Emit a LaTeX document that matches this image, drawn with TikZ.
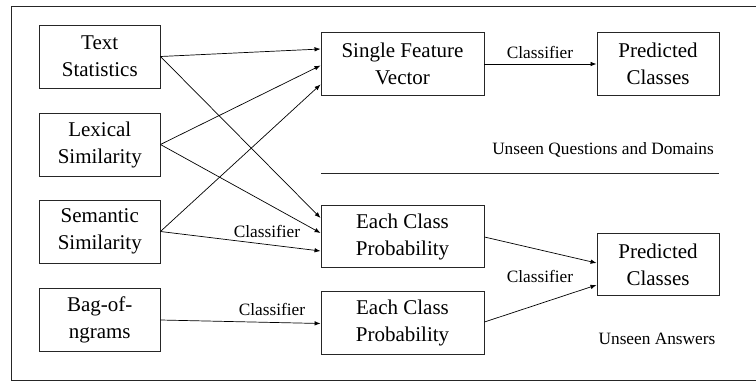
\documentclass[tikz,border=0pt]{standalone}
\usepackage{fontspec}
\setmainfont{Liberation Serif}
\usetikzlibrary{arrows.meta}
\begin{document}
\begin{tikzpicture}[x=1pt,y=-1pt,
  box/.style={draw=black!85, line width=0.9pt, inner sep=0pt, align=center,
    font=\fontsize{21}{27}\selectfont},
  inbox/.style={box, minimum width=120.5pt, minimum height=63pt},
  midbox/.style={box, minimum width=163pt, minimum height=62.5pt},
  outbox/.style={box, minimum width=122pt, minimum height=62.5pt},
  conn/.style={draw=black, line width=0.7pt, -{Latex[length=6pt,width=4.5pt]}},
  lbl/.style={font=\fontsize{17.3}{20}\selectfont, inner sep=0pt},
  rule/.style={draw=black!85, line width=0.9pt}]
\useasboundingbox (0,0) rectangle (756,381);
% frame
\coordinate (f1) at (756,6);
\coordinate (f2) at (11,6);
\coordinate (f3) at (11,380);
\coordinate (f4) at (756,380);
\draw[rule] (f1) -- (f2) -- (f3) -- (f4);
% input nodes
\node[inbox] (ts) at (99.75,56.5) {Text\\Statistics};
\node[inbox] (ls) at (99.75,144.5) {Lexical\\Similarity};
\node[inbox] (ss) at (99.75,231.5) {Semantic\\Similarity};
\node[inbox] (bg) at (99.75,320) {Bag-of-\\ngrams};
% middle nodes
\node[midbox] (sfv) at (402.5,64) {Single Feature\\Vector};
\node[midbox] (ecp1) at (402.5,236.5) {Each Class\\Probability};
\node[midbox] (ecp2) at (402.5,323) {Each Class\\Probability};
% output nodes
\node[outbox] (pc1) at (658,64) {Predicted\\Classes};
\node[outbox] (pc2) at (658,264.5) {Predicted\\Classes};
% connectors to single feature vector
\draw[conn] (ts.east) -- ([yshift=15pt]sfv.west);
\draw[conn] (ls.east) -- ([yshift=-1.5pt]sfv.west);
\draw[conn] (ss.east) -- ([yshift=-20.5pt]sfv.west);
% connectors to each class probability
\draw[conn] (ts.east) -- ([yshift=18.5pt]ecp1.west);
\draw[conn] (ls.east) -- ([yshift=3.5pt]ecp1.west);
\draw[conn] (ss.east) -- ([yshift=-14.5pt]ecp1.west);
\draw[conn] (bg.east) -- ([yshift=-0.5pt]ecp2.west);
% to outputs
\draw[conn] (sfv.east) -- (pc1.west);
\draw[conn] ([yshift=-0.5pt]ecp1.east) -- ([yshift=1.5pt]pc2.west);
\draw[conn] ([yshift=1pt]ecp2.east) -- ([yshift=-20.5pt]pc2.west);
% labels
\node[lbl] (c1) at (540,52) {Classifier};
\node[lbl] (c2) at (540,276) {Classifier};
\node[lbl] (c3) at (267,231) {Classifier};
\node[lbl] (c4) at (272,309) {Classifier};
\node[lbl] (uq) at (603,150) {Unseen Questions and Domains};
\node[lbl] (ua) at (657,339) {Unseen Answers};
% separator
\coordinate (s1) at (321,173);
\coordinate (s2) at (719,173);
\draw[rule] (s1) -- (s2);
\end{tikzpicture}
\end{document}
